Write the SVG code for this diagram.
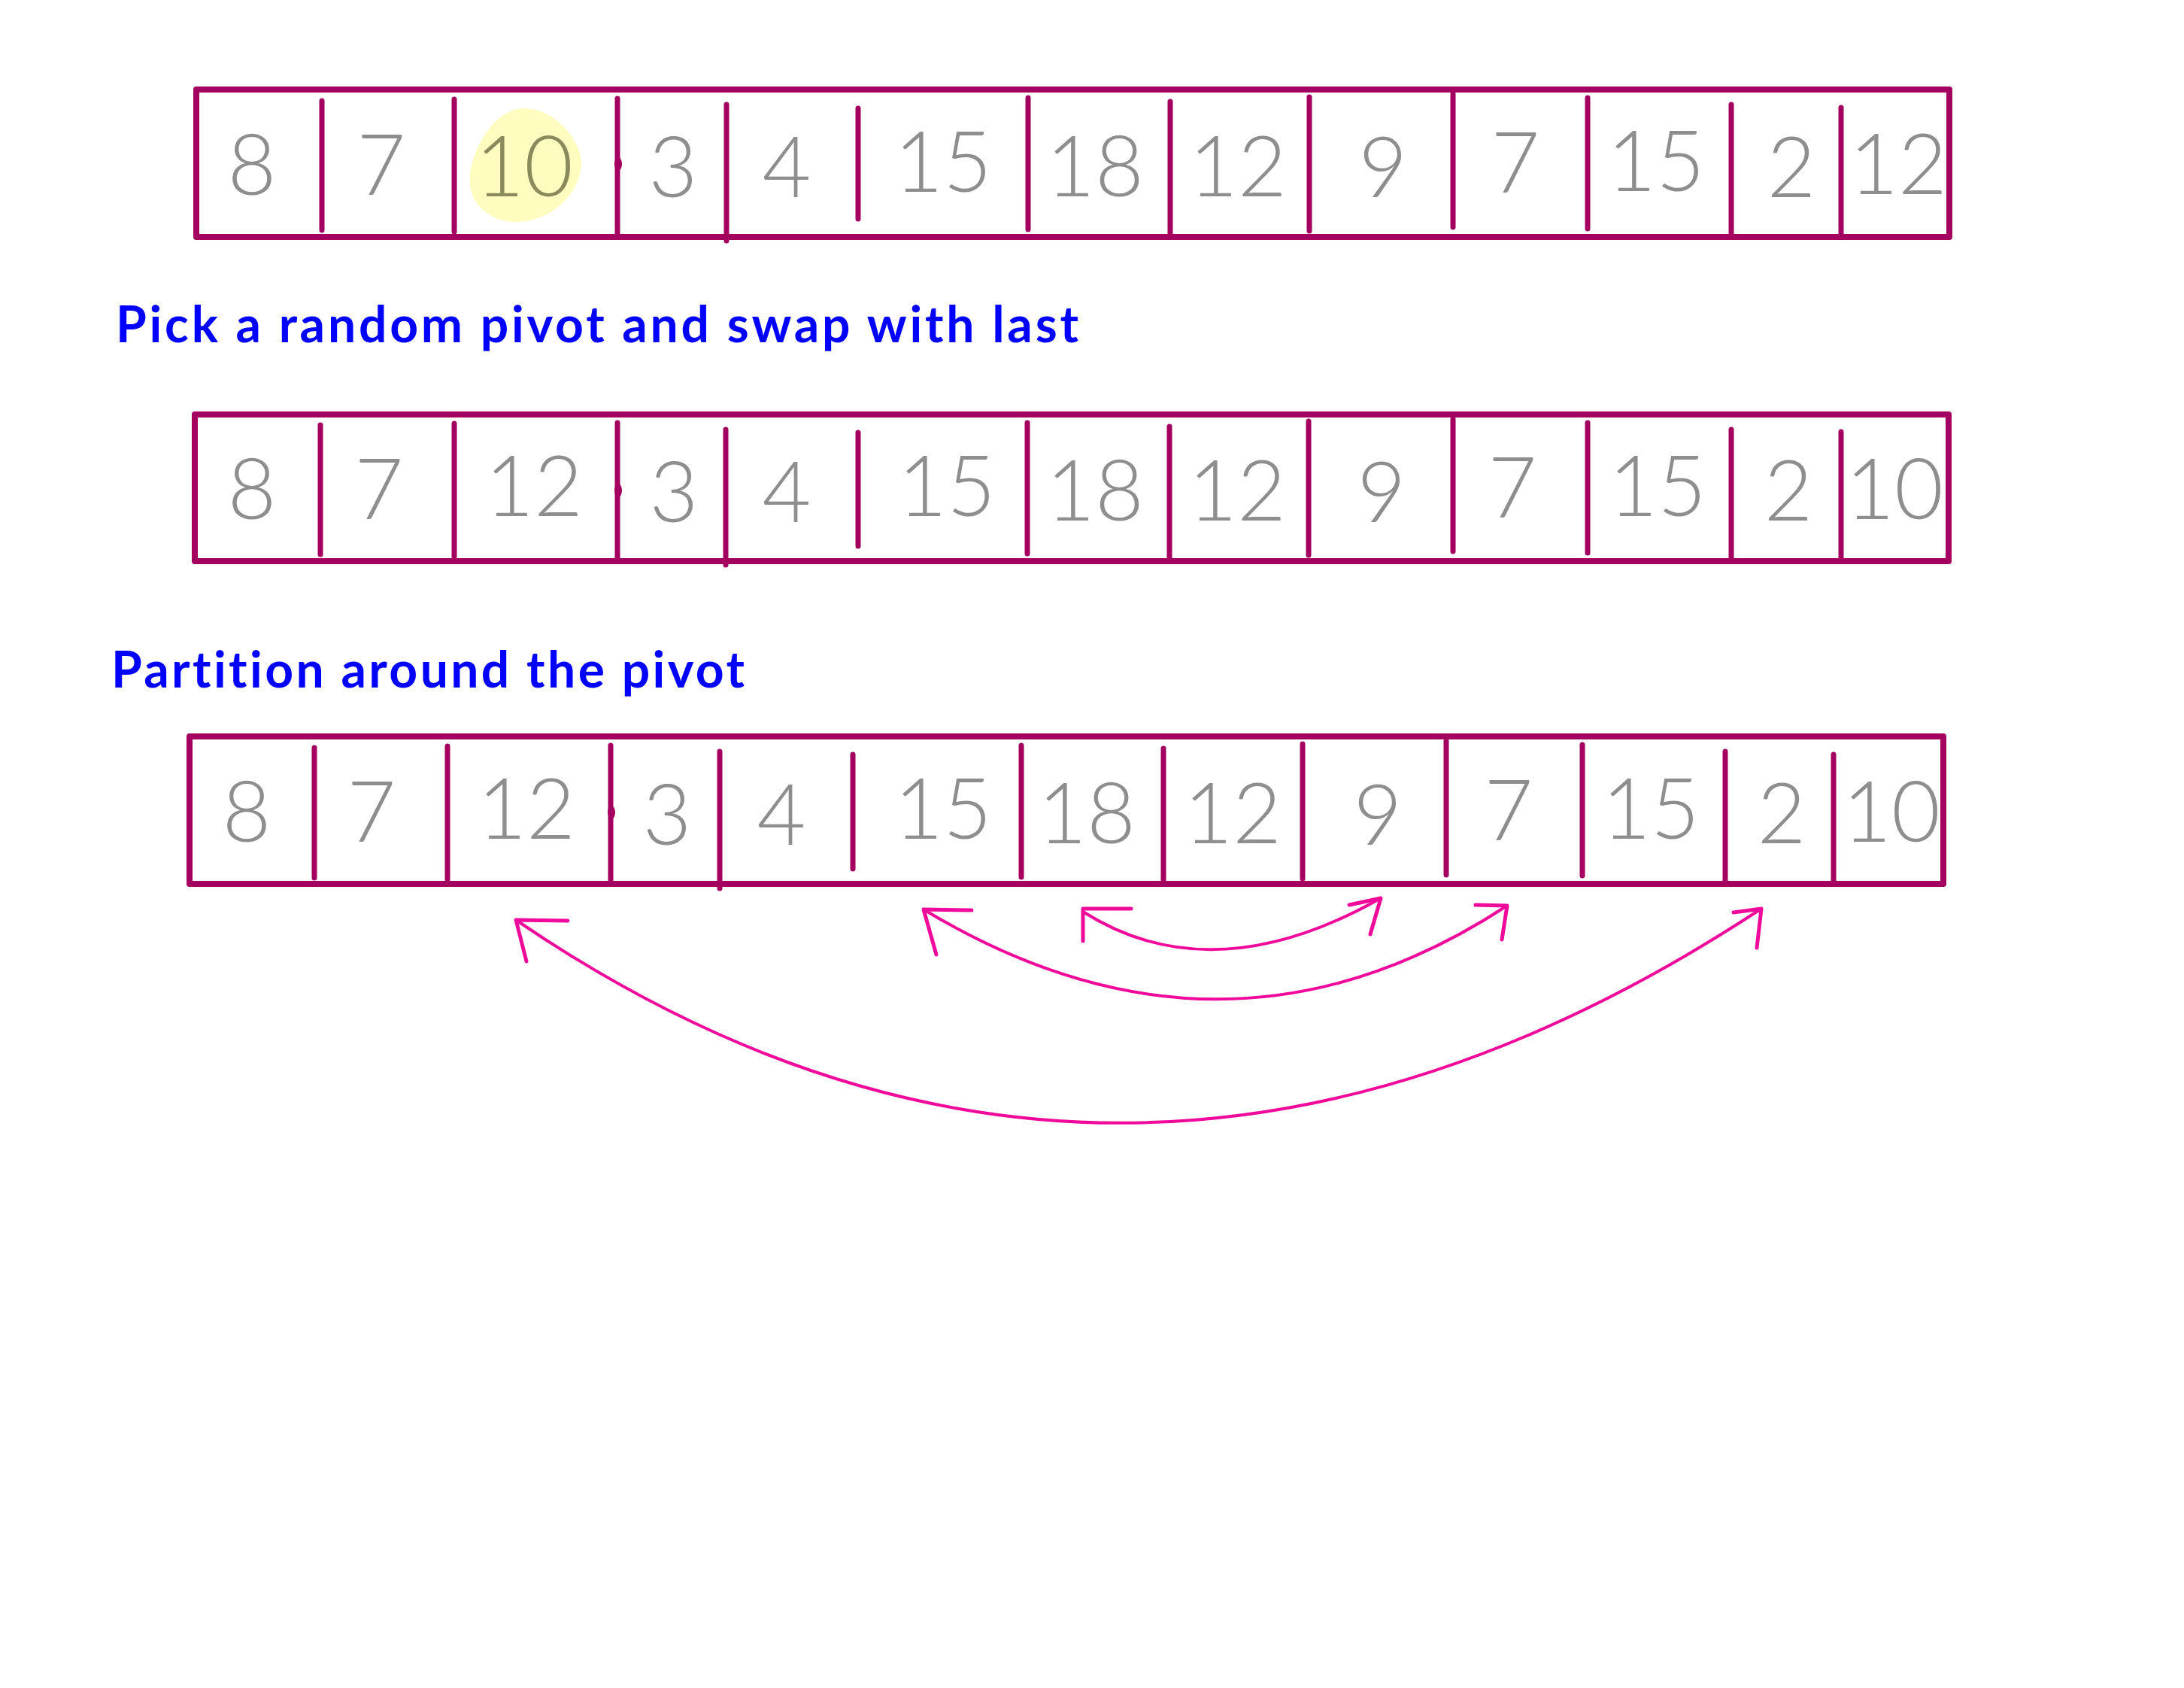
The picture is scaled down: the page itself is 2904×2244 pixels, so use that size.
<svg xmlns="http://www.w3.org/2000/svg" width="2904" height="2244" viewBox="0 0 2904 2244">
<style>
.frame{fill:none;stroke:#a3005f;stroke-width:8;stroke-linejoin:round}
.div{stroke:#a3005f;stroke-width:7;stroke-linecap:round}
.num{font-family:Lato,"Liberation Sans",sans-serif;font-weight:300;font-size:112px;fill:#8e8e8e;text-anchor:middle}
.hl{fill:#8a8a5c}
.lbl{font-family:Lato,"Liberation Sans",sans-serif;font-weight:bold;font-size:66px;fill:#0000ff;font-variant-ligatures:none}
.arc{fill:none;stroke:#f00a9c;stroke-width:4;stroke-linecap:round;stroke-linejoin:round}
.head{fill:none;stroke:#f00a9c;stroke-width:5;stroke-linecap:round;stroke-linejoin:round}
</style>
<rect width="2904" height="2244" fill="#ffffff"/>

<g id="array1">
<path d="M696,144 C740,144 775,190 773,220 C770,260 730,296 685,295 C645,294 622,265 625,235 C628,195 660,144 696,144 Z" fill="#fefdbf"/>
<rect class="frame" x="261" y="119" width="2331" height="196"/>
<line class="div" x1="428" y1="134" x2="428" y2="306"/>
<line class="div" x1="604" y1="132" x2="604" y2="308"/>
<line class="div" x1="821" y1="131" x2="821" y2="312"/>
<ellipse cx="822" cy="218" rx="5" ry="9" fill="#a3005f"/>
<line class="div" x1="966" y1="139" x2="966" y2="320"/>
<line class="div" x1="1141" y1="144" x2="1141" y2="291"/>
<line class="div" x1="1367" y1="130" x2="1367" y2="305"/>
<line class="div" x1="1556" y1="135" x2="1556" y2="313"/>
<line class="div" x1="1741" y1="129" x2="1741" y2="307"/>
<line class="div" x1="1932" y1="125" x2="1932" y2="302"/>
<line class="div" x1="2111" y1="130" x2="2111" y2="304"/>
<line class="div" x1="2302" y1="139" x2="2302" y2="312"/>
<line class="div" x1="2448" y1="143" x2="2448" y2="312"/>
<text class="num" x="335" y="259">8</text>
<text class="num" x="507" y="259">7</text>
<text class="num hl" x="697" y="261">10</text>
<text class="num" x="895" y="262">3</text>
<text class="num" x="1046" y="262">4</text>
<text class="num" x="1254" y="255">15</text>
<text class="num" x="1456" y="261">18</text>
<text class="num" x="1646" y="261">12</text>
<text class="num" x="1839" y="262">9</text>
<text class="num" x="2015" y="256">7</text>
<text class="num" x="2202" y="254">15</text>
<text class="num" x="2382" y="262">2</text>
<text class="num" x="2524" y="258">12</text>
</g>

<g id="label1">
<text class="lbl" x="154" y="455" textLength="1280" lengthAdjust="spacing">Pick a random pivot and swap with last</text>
</g>

<g id="array2">
<rect class="frame" x="259" y="551" width="2332" height="195"/>
<line class="div" x1="426" y1="565" x2="426" y2="737"/>
<line class="div" x1="604" y1="563" x2="604" y2="740"/>
<line class="div" x1="821" y1="562" x2="821" y2="744"/>
<ellipse cx="822" cy="652" rx="5" ry="9" fill="#a3005f"/>
<line class="div" x1="965" y1="571" x2="965" y2="751"/>
<line class="div" x1="1141" y1="575" x2="1141" y2="726"/>
<line class="div" x1="1366" y1="562" x2="1366" y2="736"/>
<line class="div" x1="1555" y1="567" x2="1555" y2="744"/>
<line class="div" x1="1740" y1="560" x2="1740" y2="738"/>
<line class="div" x1="1932" y1="557" x2="1932" y2="733"/>
<line class="div" x1="2111" y1="562" x2="2111" y2="735"/>
<line class="div" x1="2302" y1="571" x2="2302" y2="743"/>
<line class="div" x1="2448" y1="574" x2="2448" y2="743"/>
<text class="num" x="335" y="690">8</text>
<text class="num" x="504" y="690">7</text>
<text class="num" x="710" y="686">12</text>
<text class="num" x="896" y="694">3</text>
<text class="num" x="1046" y="694">4</text>
<text class="num" x="1259" y="686">15</text>
<text class="num" x="1456" y="692">18</text>
<text class="num" x="1645" y="692">12</text>
<text class="num" x="1837" y="694">9</text>
<text class="num" x="2011" y="688">7</text>
<text class="num" x="2204" y="686">15</text>
<text class="num" x="2378" y="692">2</text>
<text class="num" x="2519" y="690">10</text>
</g>

<g id="label2">
<text class="lbl" x="148" y="914" textLength="842" lengthAdjust="spacing">Partition around the pivot</text>
</g>

<g id="array3">
<rect class="frame" x="252" y="979" width="2332" height="196"/>
<line class="div" x1="418" y1="994" x2="418" y2="1167"/>
<line class="div" x1="595" y1="992" x2="595" y2="1169"/>
<line class="div" x1="812" y1="991" x2="812" y2="1172"/>
<ellipse cx="813" cy="1080" rx="5" ry="9" fill="#a3005f"/>
<line class="div" x1="957" y1="999" x2="957" y2="1181"/>
<line class="div" x1="1134" y1="1003" x2="1134" y2="1155"/>
<line class="div" x1="1358" y1="991" x2="1358" y2="1166"/>
<line class="div" x1="1547" y1="995" x2="1547" y2="1173"/>
<line class="div" x1="1732" y1="989" x2="1732" y2="1168"/>
<line class="div" x1="1923" y1="985" x2="1923" y2="1163"/>
<line class="div" x1="2104" y1="990" x2="2104" y2="1164"/>
<line class="div" x1="2294" y1="999" x2="2294" y2="1171"/>
<line class="div" x1="2438" y1="1003" x2="2438" y2="1171"/>
<text class="num" x="328" y="1119">8</text>
<text class="num" x="494" y="1119">7</text>
<text class="num" x="700" y="1115">12</text>
<text class="num" x="887" y="1123">3</text>
<text class="num" x="1039" y="1123">4</text>
<text class="num" x="1254" y="1115">15</text>
<text class="num" x="1445" y="1121">18</text>
<text class="num" x="1639" y="1121">12</text>
<text class="num" x="1832" y="1123">9</text>
<text class="num" x="2006" y="1117">7</text>
<text class="num" x="2195" y="1115">15</text>
<text class="num" x="2369" y="1121">2</text>
<text class="num" x="2515" y="1119">10</text>
</g>

<g id="connectors">
<path class="arc" d="M1440,1212 Q1612,1321 1836,1194"/>
<path class="head" d="M1504,1208 L1440,1208 L1440,1251"/>
<path class="head" d="M1794,1203 L1836,1194 L1822,1242"/>
<path class="arc" d="M1228,1209 Q1628,1450 2004,1204"/>
<path class="head" d="M1292,1210 L1228,1209 L1245,1269"/>
<path class="head" d="M1962,1203 L2004,1204 L1997,1249"/>
<path class="arc" d="M686,1223 Q1488,1770 2342,1208"/>
<path class="head" d="M755,1224 L686,1223 L700,1278"/>
<path class="head" d="M2305,1213 L2342,1208 L2336,1260"/>
</g>
</svg>
